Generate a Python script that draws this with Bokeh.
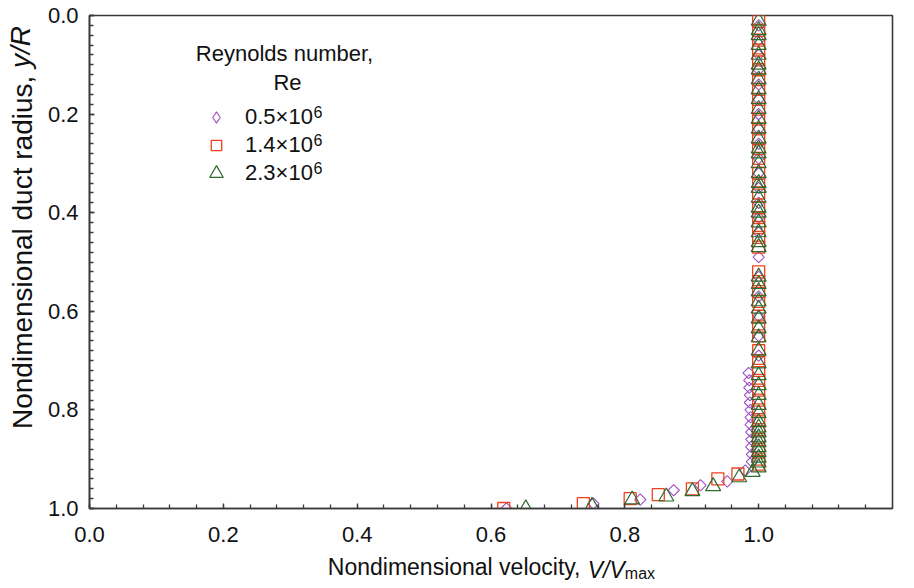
from math import pi
from bokeh.plotting import figure
from bokeh.models import (Range1d, SingleIntervalTicker, FixedTicker, Label, Legend, LegendItem,
                          NumeralTickFormatter, CustomJSTickFormatter, LinearAxis)
from bokeh.embed import file_html
from bokeh.resources import INLINE

# ---------------- data ----------------
# Re = 0.5 x 10^6  (diamonds)
v_05 = [1.0, 1.0, 1.0, 1.0, 1.0, 1.0, 1.0, 1.0, 1.0, 1.0, 1.0, 1.0, 1.0, 1.0, 1.0,
        1.0, 1.0, 1.0, 1.0, 1.0, 1.0,
        0.985, 0.986, 0.986, 0.987, 0.987, 0.988, 0.988, 0.988, 0.989, 0.989, 0.989, 0.990, 0.990,
        0.980, 0.953, 0.913, 0.873, 0.823, 0.753, 0.623]
y_05 = [0.02, 0.05, 0.08, 0.11, 0.14, 0.17, 0.20, 0.23, 0.26, 0.29, 0.32, 0.35, 0.38, 0.41, 0.44,
        0.49, 0.53, 0.57, 0.61, 0.65, 0.69,
        0.725, 0.74, 0.755, 0.77, 0.785, 0.80, 0.815, 0.83, 0.845, 0.86, 0.875, 0.89, 0.905,
        0.923, 0.945, 0.953, 0.963, 0.982, 0.99, 1.0]

# Re = 1.4 x 10^6  (squares)
v_14 = [1.0, 1.0, 1.0, 1.0, 1.0, 1.0, 1.0, 1.0, 1.0, 1.0, 1.0, 1.0, 1.0, 1.0, 1.0, 1.0,
        1.0, 1.0, 1.0, 1.0, 1.0, 1.0, 1.0,
        1.0, 1.0, 1.0, 1.0, 1.0, 1.0, 1.0,
        1.0, 1.0, 1.0, 1.0, 1.0, 1.0, 1.0, 1.0, 1.0, 1.0, 1.0, 1.0, 1.0,
        0.969, 0.939, 0.901, 0.850, 0.808, 0.738, 0.619]
y_14 = [0.012, 0.03, 0.05, 0.07, 0.09, 0.11, 0.13, 0.15, 0.17, 0.19, 0.21, 0.23, 0.25, 0.27, 0.29, 0.32,
        0.34, 0.36, 0.39, 0.41, 0.43, 0.45, 0.47,
        0.52, 0.54, 0.56, 0.58, 0.61, 0.63, 0.65,
        0.68, 0.70, 0.72, 0.74, 0.76, 0.78, 0.80, 0.82, 0.84, 0.86, 0.88, 0.90, 0.91,
        0.93, 0.94, 0.96, 0.972, 0.98, 0.99, 1.0]

# Re = 2.3 x 10^6  (triangles)
v_23 = [1.0, 1.0, 1.0, 1.0, 1.0, 1.0, 1.0, 1.0, 1.0, 1.0, 1.0, 1.0, 1.0, 1.0, 1.0, 1.0,
        1.0, 1.0, 1.0, 1.0, 1.0, 1.0, 1.0, 1.0, 1.0, 1.0, 1.0,
        1.0, 1.0, 1.0, 1.0, 1.0, 1.0, 1.0, 1.0,
        1.0, 1.0, 1.0, 1.0, 1.0, 1.0, 1.0, 1.0, 1.0, 1.0, 1.0, 1.0, 1.0, 1.0, 1.0, 1.0, 1.0,
        0.991, 0.971, 0.932, 0.901, 0.862, 0.811, 0.751, 0.652]
y_23 = [0.011, 0.03, 0.04, 0.06, 0.08, 0.10, 0.11, 0.13, 0.15, 0.17, 0.19, 0.21, 0.23, 0.25, 0.27, 0.28,
        0.30, 0.32, 0.34, 0.35, 0.37, 0.39, 0.40, 0.42, 0.44, 0.46, 0.47,
        0.53, 0.545, 0.56, 0.58, 0.595, 0.615, 0.635, 0.653,
        0.68, 0.706, 0.73, 0.75, 0.77, 0.79, 0.807, 0.825, 0.836, 0.846, 0.856, 0.866, 0.876,
        0.886, 0.897, 0.907, 0.917,
        0.926, 0.937, 0.955, 0.965, 0.976, 0.982, 0.995, 1.0]

series_mantissa = ["0.5×10", "1.4×10", "2.3×10"]
series_exponent = ["6", "6", "6"]
legend_title = ["Reynolds number,", "Re"]
x_title = ["Nondimensional velocity,", "V/V", "max"]
y_title = ["Nondimensional duct radius,", "y/R"]

FONT = "Liberation Sans"
TXT = "#111111"
PURPLE = "#a24fc4"
RED = "#f2401f"
GREEN = "#2f6a2f"

# ---------------- figure (frame: left 89, top 15, 803 x 493 px) ----------------
W, H = 906, 588
FL, FT, FW, FH = 89, 15, 803, 493
XMIN, XMAX = 0.0, 1.2
p = figure(width=W, height=H,
           x_range=Range1d(XMIN, XMAX), y_range=Range1d(1.0, 0.0),
           output_backend="svg", toolbar_location=None,
           min_border_left=FL, min_border_right=W - FL - FW,
           min_border_top=FT, min_border_bottom=H - FT - FH)
p.grid.visible = False
p.background_fill_color = "white"
p.border_fill_color = "white"
p.outline_line_color = "#3a3a3a"
p.outline_line_width = 1.6

for ax in (p.xaxis[0], p.yaxis[0]):
    ax.axis_line_color = "#3a3a3a"
    ax.axis_line_width = 1.6
    ax.major_tick_in = 5
    ax.major_tick_out = 0
    ax.minor_tick_in = 4
    ax.minor_tick_out = 0
    ax.major_tick_line_color = "#3a3a3a"
    ax.minor_tick_line_color = "#3a3a3a"
    ax.major_tick_line_width = 1.3
    ax.minor_tick_line_width = 1.3
    ax.major_label_text_font = FONT
    ax.major_label_text_font_size = "22px"
    ax.major_label_text_color = TXT
    ax.formatter = NumeralTickFormatter(format="0.0")
    ax.axis_label = None
p.xaxis[0].major_label_standoff = 18
p.yaxis[0].major_label_standoff = 11

p.xaxis[0].ticker = SingleIntervalTicker(interval=0.2, num_minor_ticks=5)
p.yaxis[0].ticker = SingleIntervalTicker(interval=0.2, num_minor_ticks=10)

r05 = p.scatter(v_05, y_05, marker="square", angle=pi / 4, size=8, fill_color=None,
                line_color=PURPLE, line_width=1.1)
r14 = p.scatter(v_14, y_14, marker="square", size=12, fill_color=None,
                line_color=RED, line_width=1.3)
r23 = p.scatter(v_23, y_23, marker="triangle", size=15, fill_color=None,
                line_color=GREEN, line_width=1.2)
# legend-only symbol (the legend does not rotate markers); no visible point
r05_key = p.scatter([float("nan")], [float("nan")], marker="diamond", size=12, fill_color=None,
                    line_color=PURPLE, line_width=1.1)

# ---------------- legend ----------------
# glyph size in the legend = 0.4 * min(glyph_width, glyph_height)
leg_specs = [  # (renderer, glyph_width, x, y)   (screen px from frame bottom-left)
    (r05_key, 28, 113, 371),
    (r14, 26, 114, 343),
    (r23, 34, 110, 315),
]
for (rend, gw, lx, ly), lab in zip(leg_specs, series_mantissa):
    lg = Legend(items=[LegendItem(label=lab, renderers=[rend])],
                location=(lx, ly), orientation="vertical",
                padding=0, margin=0, spacing=0,
                glyph_width=gw, glyph_height=40, label_height=40,
                label_standoff=245 - FL - lx - gw,
                label_text_font=FONT, label_text_font_size="22px",
                label_text_color=TXT,
                border_line_alpha=0, background_fill_alpha=0)
    p.add_layout(lg)

for k, ex in enumerate(series_exponent):
    p.add_layout(Label(x=224, y=397 - 28 * k, x_units="screen", y_units="screen",
                       text=ex, text_align="left", text_baseline="alphabetic",
                       text_font=FONT, text_font_size="16px", text_color=TXT))

p.add_layout(Label(x=195, y=455, x_units="screen", y_units="screen",
                   text=legend_title[0], text_align="center", text_baseline="alphabetic",
                   text_font=FONT, text_font_size="22px", text_color=TXT))
p.add_layout(Label(x=198, y=426, x_units="screen", y_units="screen",
                   text=legend_title[1], text_align="center", text_baseline="alphabetic",
                   text_font=FONT, text_font_size="22px", text_color=TXT))

# ---------------- axis titles with mixed styles ----------------
# each piece is the single tick label of a bare extra axis, so it stays in the margin
PX_X = FW / (XMAX - XMIN)
PX_Y = FH / 1.0


def dx(page_x):
    return XMIN + (page_x - FL) / PX_X


def dy(page_y):
    return (page_y - FT) / PX_Y


def text_axis(kind, pos, txt, size, style, standoff):
    ax = LinearAxis(ticker=FixedTicker(ticks=[pos], minor_ticks=[]),
                    formatter=CustomJSTickFormatter(code="return %r" % txt),
                    axis_line_color=None, major_tick_line_color=None,
                    minor_tick_line_color=None, major_tick_in=0, major_tick_out=0,
                    major_label_standoff=standoff,
                    major_label_text_font=FONT, major_label_text_font_size=f"{size}px",
                    major_label_text_font_style=style, major_label_text_color=TXT,
                    axis_label=None)
    if kind == "y":
        ax.major_label_orientation = "vertical"
        p.add_layout(ax, "left")
    else:
        p.add_layout(ax, "below")
    return ax


fx, fsub = 23, 16
w1 = 11.059 * fx
gap = 0.278 * fx
w2 = 1.612 * fx
w3 = 1.889 * fsub
start = (FL + FW / 2) - (w1 + gap + w2 + w3) / 2
# stacking order below the tick labels: main words, subscript, italic part
text_axis("x", dx(start + w1 / 2), x_title[0], fx, "normal", 9)
text_axis("x", dx(start + w1 + gap + w2 + w3 / 2), x_title[2], fsub, "normal", -18)
text_axis("x", dx(start + w1 + gap + w2 / 2), x_title[1], fx, "italic", -28)

fy = 28
wy1 = 12.616 * fy
gapy = 0.278 * fy
wy2 = 1.5 * fy
ystart = 227 + (wy1 + gapy + wy2) / 2
text_axis("y", dy(ystart - wy1 / 2), y_title[0], fy, "normal", 6)
text_axis("y", dy(ystart - wy1 - gapy - wy2 / 2), y_title[1], fy, "italic", -32)

open("out.html", "w").write(file_html(p, INLINE))
